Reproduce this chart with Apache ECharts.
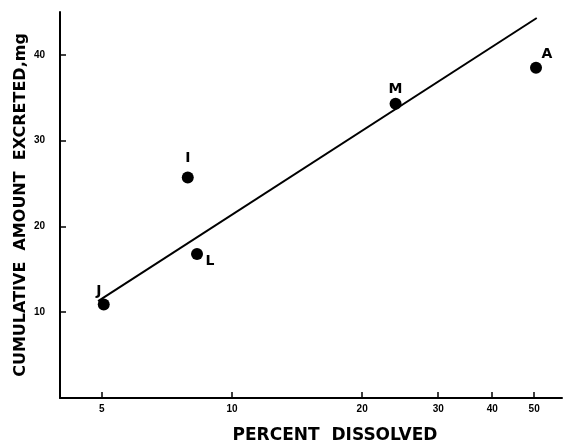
<!DOCTYPE html>
<html><head><meta charset="utf-8">
<script src="https://cdn.jsdelivr.net/npm/echarts@6/dist/echarts.min.js"></script>
<style>html,body{margin:0;padding:0;background:#fff}#c{width:566px;height:444px}</style>
</head><body><div id="c"></div>
<script>
const pointNames = ['J', 'I', 'L', 'M', 'A'];
const percentDissolved = [5.05, 7.9, 8.3, 23.9, 50.5];
const amountExcreted = [10.9, 25.7, 16.8, 34.3, 38.5];
const labelOffsets = [[-5, -13], [0, -19], [13, 7], [0, -14], [11, -13]];
const fitLineX = [4.9, 50.7];
const fitLineY = [11.3, 44.3];
const xTickValues = [5, 10, 20, 30, 40, 50];
const yTickValues = [10, 20, 30, 40];

const chart = echarts.init(document.getElementById('c'), null, {renderer: 'canvas'});
const tickFont = {fontFamily: 'Liberation Sans, Arial, sans-serif', fontWeight: 'bold', fontSize: 10, color: '#000'};
chart.setOption({
  animation: false,
  backgroundColor: '#fff',
  grid: {left: 60, right: 4, top: 12, bottom: 46, containLabel: false, outerBoundsMode: 'none'},
  xAxis: {
    type: 'log', logBase: 10, min: 4, max: 58,
    name: 'PERCENT  DISSOLVED', nameLocation: 'middle', nameGap: 29,
    nameTextStyle: {fontFamily: 'DejaVu Sans', fontWeight: 'bold', fontSize: 17, color: '#000', padding: [0, 0, 0, 48]},
    axisLine: {lineStyle: {color: '#000', width: 2}},
    axisTick: {inside: true, length: 6, customValues: xTickValues, lineStyle: {color: '#000', width: 1.5}},
    axisLabel: {customValues: xTickValues, margin: 6, ...tickFont},
    splitLine: {show: false}
  },
  yAxis: {
    type: 'value', min: 0, max: 45,
    name: 'CUMULATIVE  AMOUNT  EXCRETED,mg', nameLocation: 'middle', nameGap: 31,
    nameMoveOverlap: false,
    nameTextStyle: {fontFamily: 'DejaVu Sans', fontWeight: 'bold', fontSize: 16, color: '#000'},
    axisLine: {lineStyle: {color: '#000', width: 2}},
    axisTick: {inside: true, length: 6, customValues: yTickValues, lineStyle: {color: '#000', width: 1.5}},
    axisLabel: {customValues: yTickValues, margin: 15, ...tickFont},
    splitLine: {show: false}
  },
  series: [
    {
      type: 'line',
      data: fitLineX.map((x, i) => [x, fitLineY[i]]),
      symbol: 'none',
      lineStyle: {color: '#000', width: 2}
    },
    {
      type: 'scatter',
      symbolSize: 12,
      itemStyle: {color: '#000', opacity: 1},
      data: pointNames.map((n, i) => ({
        name: n,
        value: [percentDissolved[i], amountExcreted[i]],
        label: {offset: labelOffsets[i]}
      })),
      label: {
        show: true, position: 'inside', formatter: p => p.name,
        fontFamily: 'DejaVu Sans', fontWeight: 'bold', fontSize: 14, color: '#000',
        textBorderWidth: 0, opacity: 1
      }
    }
  ]
});
</script>
</body></html>
